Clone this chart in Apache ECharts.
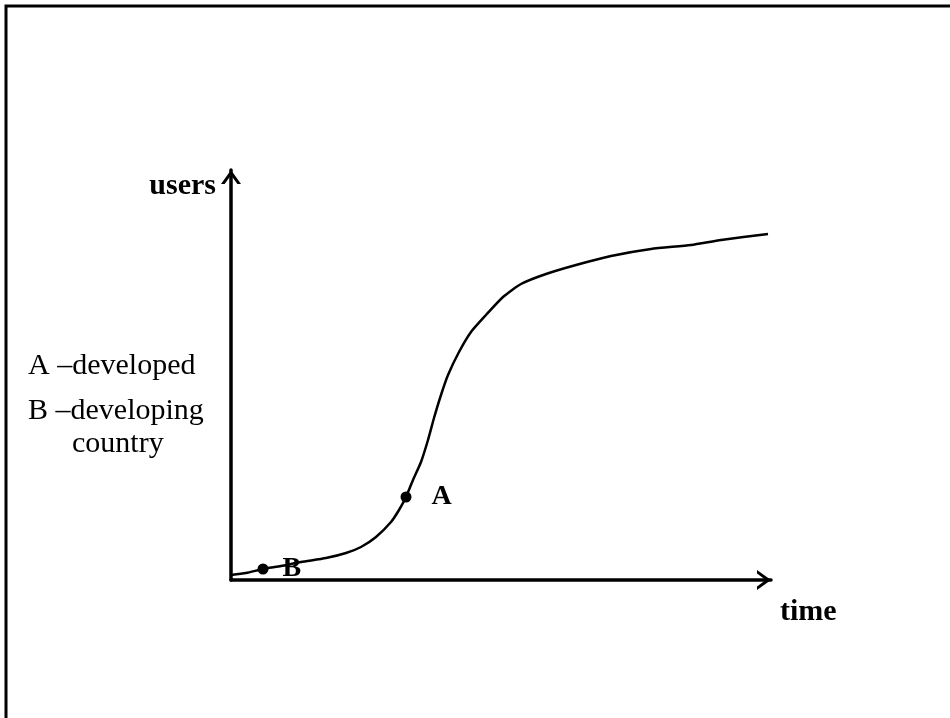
<!DOCTYPE html>
<html>
<head>
<meta charset="utf-8">
<script src="https://cdn.jsdelivr.net/npm/echarts@6/dist/echarts.min.js"></script>
<style>
  html, body { margin: 0; padding: 0; background: #fff; }
  #chart { width: 950px; height: 718px; }
</style>
</head>
<body>
<div id="chart"></div>
<script>
var chart = echarts.init(document.getElementById("chart"));

// adoption curve (arbitrary units: time 0-540, users 0-410)
let timeVals = [0, 15, 32, 50, 70, 95, 115, 130, 145, 160, 168, 175, 182, 190, 197, 203, 210, 217, 228, 240, 255, 272, 290, 315, 345, 380, 420, 460, 490, 537];
let userVals = [5, 7, 11, 14, 18, 22, 27, 33, 43, 58, 70, 83, 100, 118, 140, 162, 185, 205, 228, 248, 265, 283, 296, 306, 315, 324, 331, 335, 340, 346];

// marked points
let pointNames = ["B", "A"];
let pointTime = [32, 175];
let pointUsers = [11, 83];
let labelGap = [14, 20];

let legendLines = ["A \u2013developed", "B \u2013developing", "country"];

var curve = timeVals.map((t, i) => [t, userVals[i]]);
var pts = pointNames.map((n, i) => ({
  name: n,
  value: [pointTime[i], pointUsers[i]],
  label: { distance: labelGap[i] }
}));

var serif = "'Liberation Serif', 'DejaVu Serif', serif";
// open chevron arrow head, tip at the top
var chevron = "path://M0,14 L10,0 L20,14 L16.4,14 L10,5.2 L3.6,14 Z";

chart.setOption({
  animation: false,
  backgroundColor: "#fff",
  grid: {
    left: 231,
    right: 179,
    top: 170,
    bottom: 138
  },
  xAxis: {
    type: "value",
    min: 0,
    max: 540,
    axisLine: {
      lineStyle: { color: "#000", width: 3.5 },
      symbol: ["none", chevron],
      symbolSize: [20, 14],
      symbolOffset: [0, -7]
    },
    axisTick: { show: false },
    axisLabel: { show: false },
    splitLine: { show: false }
  },
  yAxis: {
    type: "value",
    min: 0,
    max: 410,
    axisLine: {
      show: true,
      lineStyle: { color: "#000", width: 3.5 },
      symbol: ["none", chevron],
      symbolSize: [20, 14],
      symbolOffset: [0, -7]
    },
    axisTick: { show: false },
    axisLabel: { show: false },
    splitLine: { show: false }
  },
  graphic: [
    {
      type: "rect",
      shape: { x: 6, y: 6, width: 1200, height: 1200 },
      style: { fill: "none", stroke: "#000", lineWidth: 3 }
    },
    {
      type: "text", x: 216, y: 186,
      style: { text: "users", font: "bold 30px " + serif, fill: "#000", align: "right", verticalAlign: "middle" }
    },
    {
      type: "text", x: 780, y: 612,
      style: { text: "time", font: "bold 30px " + serif, fill: "#000", align: "left", verticalAlign: "middle" }
    },
    {
      type: "text", x: 28, y: 366,
      style: { text: legendLines[0], font: "30px " + serif, fill: "#000", verticalAlign: "middle" }
    },
    {
      type: "text", x: 28, y: 411,
      style: { text: legendLines[1], font: "30px " + serif, fill: "#000", verticalAlign: "middle" }
    },
    {
      type: "text", x: 72, y: 444,
      style: { text: legendLines[2], font: "30px " + serif, fill: "#000", verticalAlign: "middle" }
    }
  ],
  series: [
    {
      type: "line",
      data: curve,
      smooth: 0.2,
      showSymbol: false,
      lineStyle: { color: "#000", width: 2.5 },
      z: 3
    },
    {
      type: "scatter",
      data: pts,
      symbolSize: 11,
      itemStyle: { color: "#000", opacity: 1 },
      label: {
        show: true,
        position: "right",
        formatter: "{b}",
        color: "#000",
        fontFamily: serif,
        fontWeight: "bold",
        fontSize: 28
      },
      z: 4
    }
  ]
});
</script>
</body>
</html>
